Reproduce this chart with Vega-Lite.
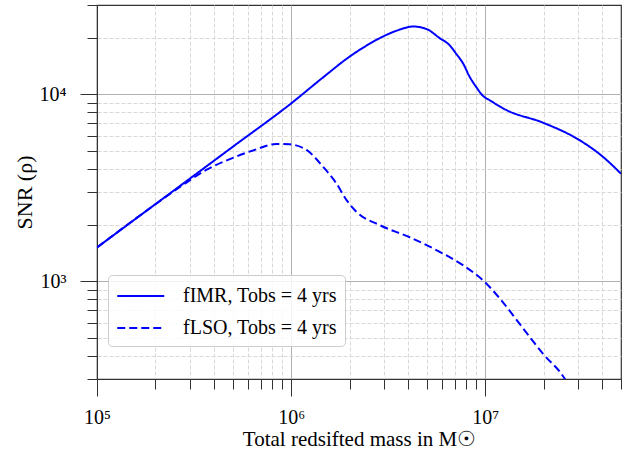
{
  "$schema": "https://vega.github.io/schema/vega-lite/v6.json",
  "width": 524,
  "height": 374,
  "autosize": "none",
  "padding": {"left": 97, "top": 5, "right": 10, "bottom": 73},
  "background": "white",
  "config": {
    "view": {"stroke": "#333333", "strokeWidth": 1.2},
    "font": "Liberation Serif"
  },
  "data": {
    "values": [
      {"series": "fIMR, Tobs = 4 yrs", "mass": 100000, "snr": 1516},
      {"series": "fIMR, Tobs = 4 yrs", "mass": 200000, "snr": 2584},
      {"series": "fIMR, Tobs = 4 yrs", "mass": 500000, "snr": 5232},
      {"series": "fIMR, Tobs = 4 yrs", "mass": 1000000, "snr": 8933},
      {"series": "fIMR, Tobs = 4 yrs", "mass": 1460000, "snr": 12300},
      {"series": "fIMR, Tobs = 4 yrs", "mass": 2000000, "snr": 15888},
      {"series": "fIMR, Tobs = 4 yrs", "mass": 2400000, "snr": 17990},
      {"series": "fIMR, Tobs = 4 yrs", "mass": 2860000, "snr": 19950},
      {"series": "fIMR, Tobs = 4 yrs", "mass": 3500000, "snr": 21880},
      {"series": "fIMR, Tobs = 4 yrs", "mass": 4250000, "snr": 23014},
      {"series": "fIMR, Tobs = 4 yrs", "mass": 5000000, "snr": 22280},
      {"series": "fIMR, Tobs = 4 yrs", "mass": 5820000, "snr": 19950},
      {"series": "fIMR, Tobs = 4 yrs", "mass": 6550000, "snr": 18280},
      {"series": "fIMR, Tobs = 4 yrs", "mass": 7100000, "snr": 16400},
      {"series": "fIMR, Tobs = 4 yrs", "mass": 7670000, "snr": 14660},
      {"series": "fIMR, Tobs = 4 yrs", "mass": 8300000, "snr": 12417},
      {"series": "fIMR, Tobs = 4 yrs", "mass": 9000000, "snr": 10890},
      {"series": "fIMR, Tobs = 4 yrs", "mass": 9730000, "snr": 9795},
      {"series": "fIMR, Tobs = 4 yrs", "mass": 10500000, "snr": 9310},
      {"series": "fIMR, Tobs = 4 yrs", "mass": 12800000, "snr": 8241},
      {"series": "fIMR, Tobs = 4 yrs", "mass": 19800000, "snr": 7047},
      {"series": "fIMR, Tobs = 4 yrs", "mass": 30500000, "snr": 5689},
      {"series": "fIMR, Tobs = 4 yrs", "mass": 40300000, "snr": 4634},
      {"series": "fIMR, Tobs = 4 yrs", "mass": 50000000, "snr": 3758},
      {"series": "fLSO, Tobs = 4 yrs", "mass": 100000, "snr": 1516},
      {"series": "fLSO, Tobs = 4 yrs", "mass": 200000, "snr": 2580},
      {"series": "fLSO, Tobs = 4 yrs", "mass": 277000, "snr": 3273},
      {"series": "fLSO, Tobs = 4 yrs", "mass": 365000, "snr": 3936},
      {"series": "fLSO, Tobs = 4 yrs", "mass": 520000, "snr": 4634},
      {"series": "fLSO, Tobs = 4 yrs", "mass": 660000, "snr": 5070},
      {"series": "fLSO, Tobs = 4 yrs", "mass": 836000, "snr": 5420},
      {"series": "fLSO, Tobs = 4 yrs", "mass": 980000, "snr": 5395},
      {"series": "fLSO, Tobs = 4 yrs", "mass": 1200000, "snr": 5035},
      {"series": "fLSO, Tobs = 4 yrs", "mass": 1460000, "snr": 4093},
      {"series": "fLSO, Tobs = 4 yrs", "mass": 1710000, "snr": 3334},
      {"series": "fLSO, Tobs = 4 yrs", "mass": 1930000, "snr": 2716},
      {"series": "fLSO, Tobs = 4 yrs", "mass": 2170000, "snr": 2350},
      {"series": "fLSO, Tobs = 4 yrs", "mass": 2860000, "snr": 1995},
      {"series": "fLSO, Tobs = 4 yrs", "mass": 4080000, "snr": 1718},
      {"series": "fLSO, Tobs = 4 yrs", "mass": 5820000, "snr": 1436},
      {"series": "fLSO, Tobs = 4 yrs", "mass": 7670000, "snr": 1219},
      {"series": "fLSO, Tobs = 4 yrs", "mass": 9930000, "snr": 991},
      {"series": "fLSO, Tobs = 4 yrs", "mass": 11900000, "snr": 807},
      {"series": "fLSO, Tobs = 4 yrs", "mass": 15000000, "snr": 593},
      {"series": "fLSO, Tobs = 4 yrs", "mass": 19800000, "snr": 410},
      {"series": "fLSO, Tobs = 4 yrs", "mass": 25600000, "snr": 302},
      {"series": "fLSO, Tobs = 4 yrs", "mass": 27000000, "snr": 275}
    ]
  },
  "mark": {"type": "line", "color": "#0000ff", "strokeWidth": 2, "interpolate": "monotone", "clip": true},
  "encoding": {
    "x": {
      "field": "mass",
      "type": "quantitative",
      "scale": {"type": "log", "domain": [100000, 50000000], "nice": false},
      "axis": {
        "title": "Total redsifted mass in M☉",
        "titleFont": "Liberation Serif",
        "titleFontSize": 21,
        "titleFontWeight": "normal",
        "titleColor": "black",
        "titleBaseline": "alphabetic",
        "titleY": 66,
        "values": [100000, 200000, 300000, 400000, 500000, 600000, 700000, 800000, 900000, 1000000, 2000000, 3000000, 4000000, 5000000, 6000000, 7000000, 8000000, 9000000, 10000000, 20000000, 30000000, 40000000, 50000000],
        "labelExpr": "datum.value == 100000 ? '10⁵' : datum.value == 1000000 ? '10⁶' : datum.value == 10000000 ? '10⁷' : ''",
        "labelFont": "Liberation Serif",
        "labelFontSize": 20,
        "labelColor": "black",
        "labelBaseline": "alphabetic",
        "labelPadding": 27,
        "labelFlush": false,
        "labelOverlap": false,
        "domainColor": "#333333",
        "tickColor": "#333333",
        "tickSize": {"condition": {"test": "datum.value == 100000 || datum.value == 1000000 || datum.value == 10000000", "value": 17}, "value": 10},
        "grid": true,
        "gridColor": {"condition": {"test": "datum.value == 100000 || datum.value == 1000000 || datum.value == 10000000", "value": "#b0b0b0"}, "value": "#d8d8d8"},
        "gridDash": {"condition": {"test": "datum.value == 100000 || datum.value == 1000000 || datum.value == 10000000", "value": []}, "value": [4, 2]},
        "gridOpacity": {"condition": {"test": "datum.value == 50000000", "value": 0}, "value": 1},
        "gridWidth": 1
      }
    },
    "y": {
      "field": "snr",
      "type": "quantitative",
      "scale": {"type": "log", "domain": [300, 30000], "nice": false},
      "axis": {
        "title": "SNR (ρ)",
        "titleFont": "Liberation Serif",
        "titleFontSize": 22,
        "titleFontWeight": "normal",
        "titleColor": "black",
        "titleBaseline": "alphabetic",
        "titleX": -66,
        "values": [300, 400, 500, 600, 700, 800, 900, 1000, 2000, 3000, 4000, 5000, 6000, 7000, 8000, 9000, 10000, 20000, 30000],
        "labelExpr": "datum.value == 1000 ? '10³' : datum.value == 10000 ? '10⁴' : ''",
        "labelFont": "Liberation Serif",
        "labelFontSize": 20,
        "labelColor": "black",
        "labelPadding": 14,
        "labelFlush": false,
        "labelOverlap": false,
        "domainColor": "#333333",
        "tickColor": "#333333",
        "tickSize": {"condition": {"test": "datum.value == 1000 || datum.value == 10000", "value": 17}, "value": 10},
        "grid": true,
        "gridColor": {"condition": {"test": "datum.value == 1000 || datum.value == 10000", "value": "#b0b0b0"}, "value": "#d8d8d8"},
        "gridDash": {"condition": {"test": "datum.value == 1000 || datum.value == 10000", "value": []}, "value": [4, 2]},
        "gridOpacity": {"condition": {"test": "datum.value == 30000", "value": 0}, "value": 1},
        "gridWidth": 1
      }
    },
    "strokeDash": {
      "field": "series",
      "type": "nominal",
      "scale": {"domain": ["fIMR, Tobs = 4 yrs", "fLSO, Tobs = 4 yrs"], "range": [[1, 0], [8, 4]]},
      "legend": {
        "title": null,
        "orient": "none",
        "legendX": 11,
        "legendY": 270,
        "symbolType": "M-1,0H3",
        "symbolSize": 552,
        "symbolStrokeWidth": 2,
        "symbolStrokeColor": "#0000ff",
        "symbolFillColor": "transparent",
        "labelFont": "Liberation Serif",
        "labelFontSize": 20,
        "labelColor": "black",
        "labelOffset": 41,
        "labelLimit": 400,
        "rowPadding": 9,
        "padding": 8,
        "fillColor": "rgba(255,255,255,0.85)",
        "strokeColor": "#cccccc",
        "cornerRadius": 4
      }
    }
  }
}
